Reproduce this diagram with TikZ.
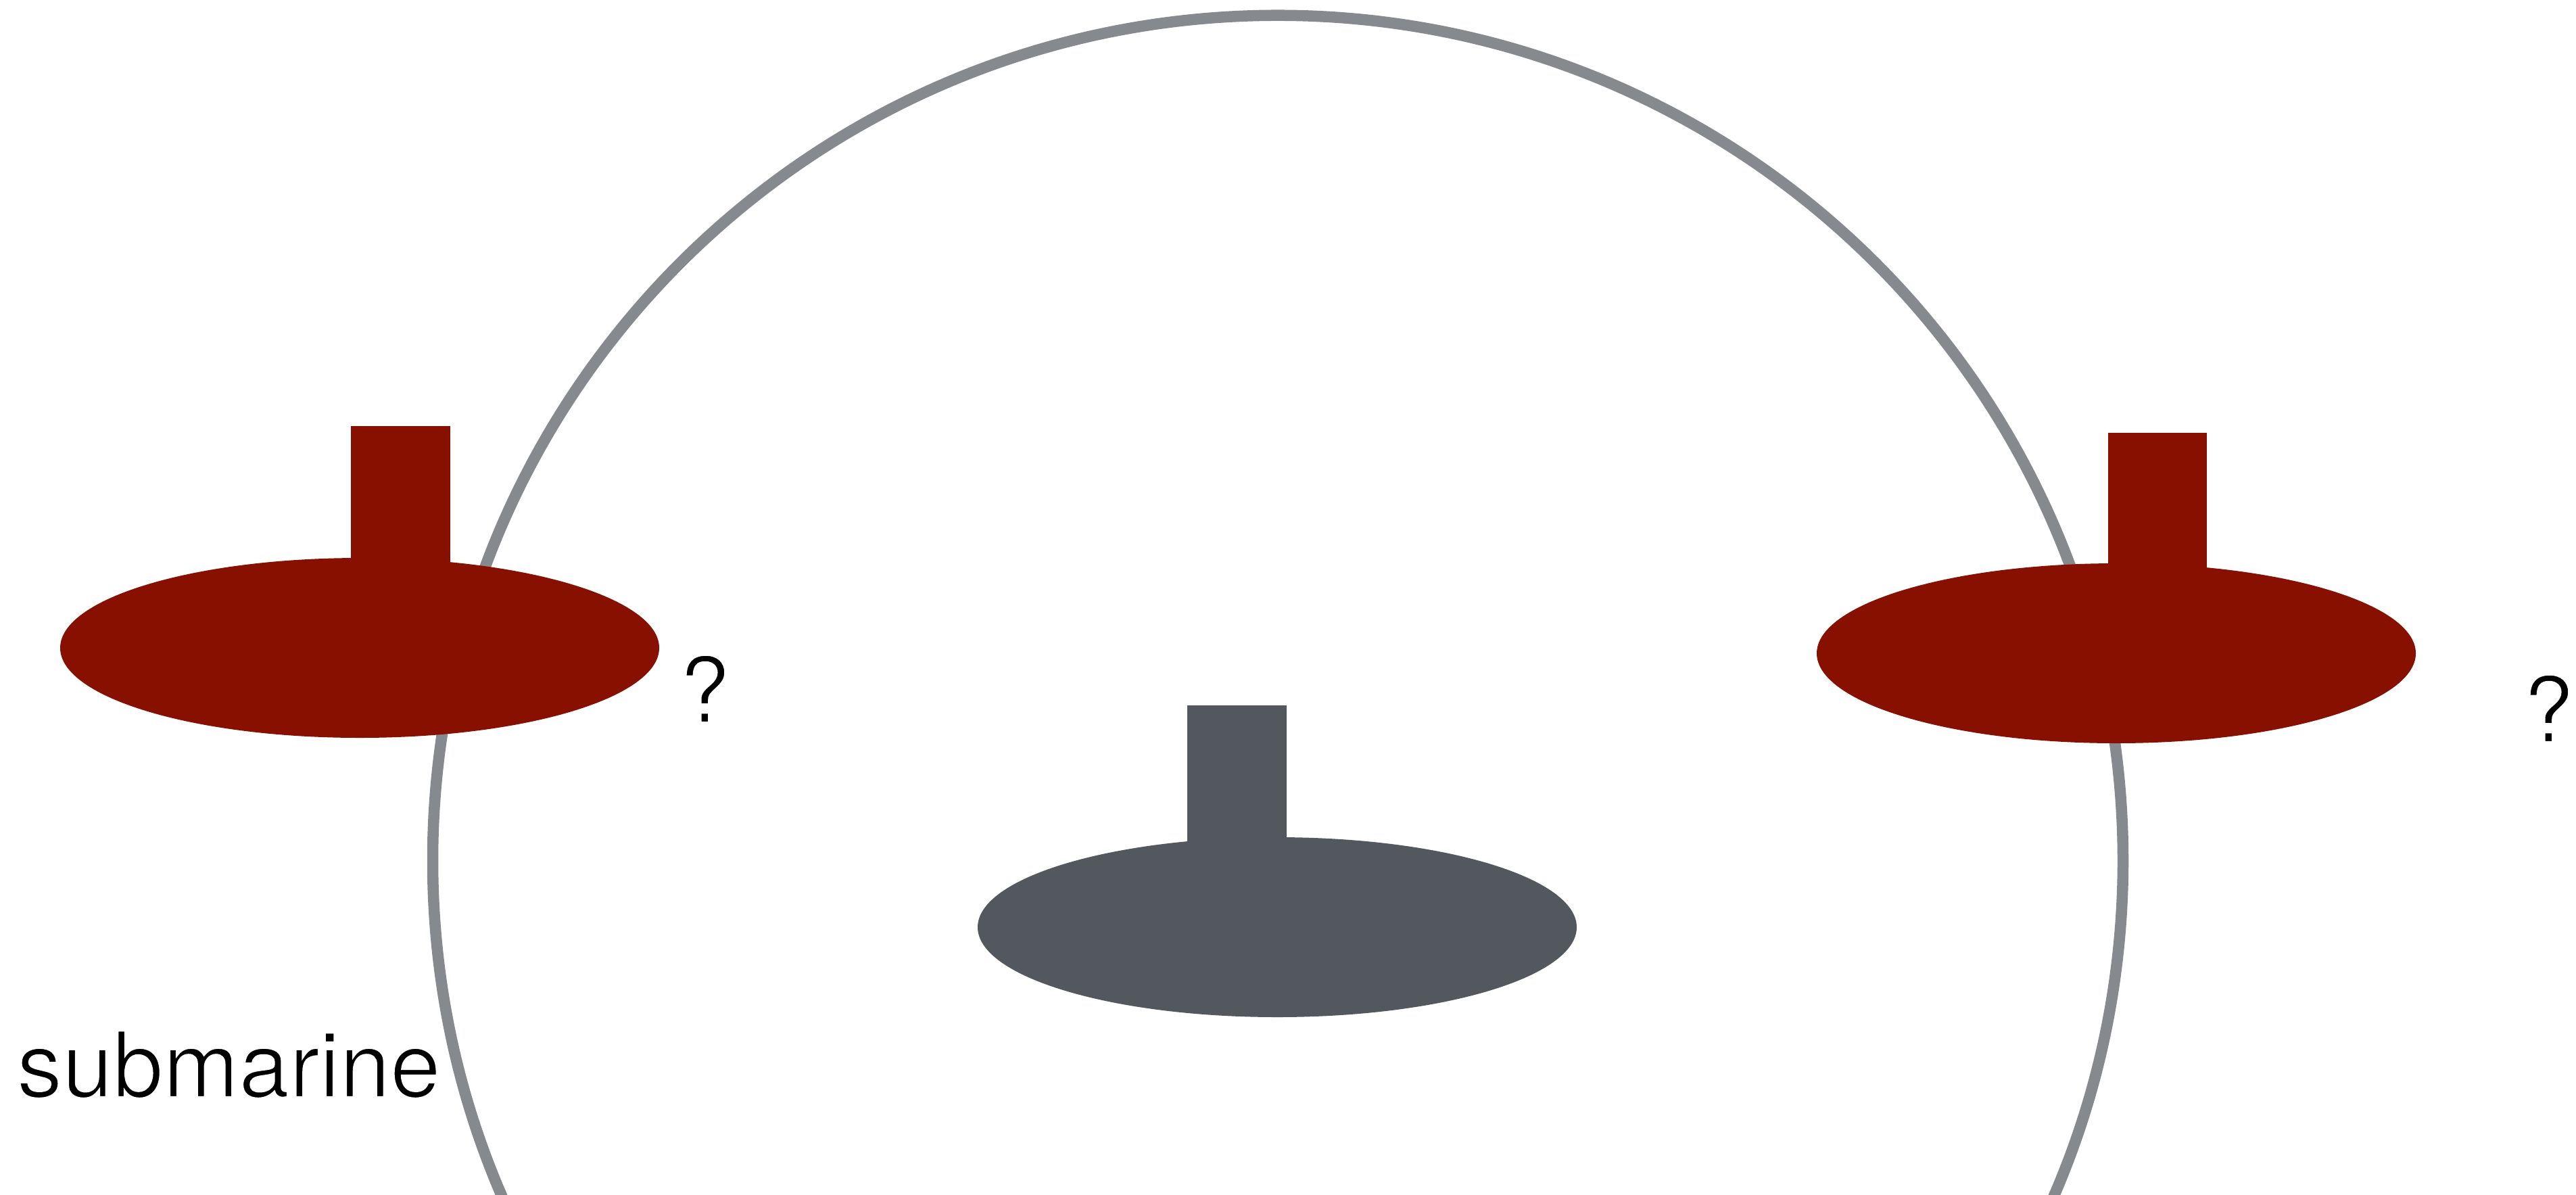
\documentclass[tikz,border=0pt]{standalone}
\usepackage{fontspec}
\setmainfont{TeX Gyre Heros}
\definecolor{ringgrey}{HTML}{868A8E}
\definecolor{subred}{HTML}{871000}
\definecolor{subgrey}{HTML}{53585E}
\newcommand{\thintext}[1]{\special{pdf:code q 2 Tr 1 1 1 RG 0.7 w}#1\special{pdf:code Q}}
\tikzset{
  ring/.style={draw=ringgrey,line width=0.165cm},
  label/.style={inner sep=0pt,outer sep=0pt,anchor=base west,text=black,font=\fontsize{38.2}{40}\selectfont},
}
\newcommand{\subm}[6]{% fill, ellipse cx, cy, rect left, rect right, rect top
  \fill[#1] (#2,#3) ellipse [x radius=4.43,y radius=1.33];
  \fill[#1] (#4,#3) rectangle (#5,#6);
}
\begin{document}
\begin{tikzpicture}[x=1cm,y=1cm]
\useasboundingbox (0,0) rectangle (38.10,-17.66);
\begin{scope}
  \clip (0,0) rectangle (38.10,-17.66);
  \draw[ring] (18.90,-12.727) circle [radius=12.50];
\end{scope}
\subm{subred}{5.32}{-9.58}{5.19}{6.66}{-6.30}
\subm{subred}{31.30}{-9.66}{31.18}{32.64}{-6.40}
\subm{subgrey}{18.89}{-13.71}{17.56}{19.03}{-10.43}
\node[label] (sublabel) at (0.25,-16.22) {\thintext{submarine}};
\node[label] (qleft) at (10.05,-10.68) {\thintext{?}};
\node[label] (qright) at (37.32,-10.97) {\thintext{?}};
\end{tikzpicture}
\end{document}
